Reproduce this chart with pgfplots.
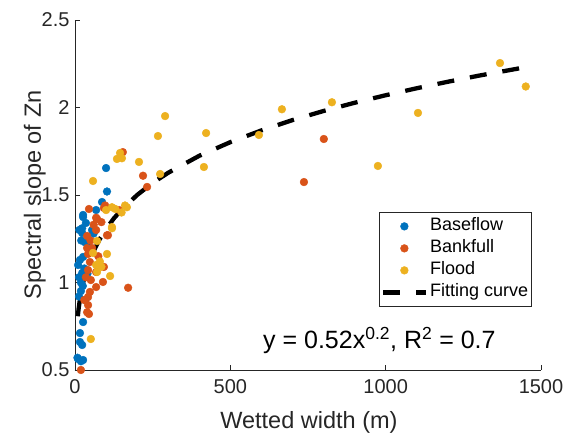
\documentclass[border=0pt]{standalone}
\usepackage{fontspec}
\setmainfont{Liberation Sans}
\usepackage{pgfplots}
\pgfplotsset{compat=1.18}
\definecolor{mblue}{rgb}{0,0.447,0.741}
\definecolor{morange}{rgb}{0.850,0.325,0.098}
\definecolor{myellow}{rgb}{0.929,0.694,0.125}
\definecolor{axgray}{gray}{0.15}

\begin{document}
\begin{tikzpicture}
\path[use as bounding box] (-75pt,-66pt) rectangle (488pt,370pt);
\begin{axis}[
  scale only axis, width=466pt, height=350pt,
  xmin=0, xmax=1500, ymin=0.5, ymax=2.5,
  xtick={0,500,1000,1500}, ytick={0.5,1,1.5,2,2.5},
  scaled x ticks=false,
  /pgf/number format/1000 sep={},
  /pgf/number format/assume math mode=true,
  axis lines=left,
  axis line style={-, axgray, line width=0.6pt},
  tick align=inside, major tick length=5pt,
  tick style={axgray, line width=0.6pt},
  ticklabel style={font=\fontsize{20}{24}\selectfont, text=axgray},
  xticklabel style={yshift=-6pt},
  yticklabel style={xshift=-2pt},
  xlabel={Wetted width (m)},
  ylabel={Spectral slope of Zn},
  label style={font=\fontsize{23.5}{27}\selectfont, text=axgray},
  xlabel style={at={(axis description cs:0.502,0)}, anchor=base, yshift=-59pt},
  ylabel style={at={(axis description cs:-0.073,0.5)}, anchor=base},
  clip=false,
  dots/.style={only marks, mark=*, mark size=3.9pt, color=#1, mark options={solid, fill=#1, draw=#1, line width=0.4pt}},
  legend cell align=left,
  legend image code/.code={\draw[mark repeat=2,mark phase=2,#1] plot coordinates {(0pt,0pt) (21pt,0pt) (43pt,0pt)};},
  legend style={at={(axis cs:978,1.403)}, anchor=north west,
    draw=axgray, line width=0.8pt, fill=white,
    font=\fontsize{18}{20}\selectfont,
    inner xsep=2pt, inner ysep=3pt,
    nodes={inner sep=1.5pt, text height=14pt, text depth=5pt}},
]
% Baseflow
\addplot[dots=mblue] coordinates {
(100,1.654) (103,1.520) (87,1.460) (68,1.414) (26,1.386) (26,1.374) (35,1.34)
(23,1.310) (23,1.283) (14,1.30) (55,1.300) (32,1.230) (45,1.200) (20,1.240)
(26,1.146) (16,1.129) (10,1.10) (30,1.08) (23,1.054) (13,1.03) (19,1.000)
(25,0.980) (19,0.951) (13,0.92) (33,0.90) (26,0.774) (16,0.711) (16,0.660)
(23,0.643) (10,0.563) (26,0.557) (19,0.55) (8,0.57) (60,1.28) (40,1.05)
};
\addlegendentry{Baseflow}
% Bankfull
\addplot[dots=morange] coordinates {
(154,1.745) (219,1.610) (232,1.546) (801,1.820) (737,1.574) (45,1.420) (93,1.426)
(142,1.414) (97,1.440) (71,1.363) (68,1.370) (85,1.345) (106,1.270) (103,1.270)
(68,1.300) (39,1.266) (50,1.240) (39,1.197) (55,1.197) (42,1.163) (75,1.15)
(48,1.117) (42,1.071) (93,1.089) (68,1.060) (90,1.003) (51,1.014) (35,1.03)
(171,0.970) (68,0.974) (48,0.946) (42,0.917) (30,0.90) (42,0.871) (39,0.830)
(45,0.82) (19,0.500) (60,1.33)
};
\addlegendentry{Bankfull}
% Flood
\addplot[dots=myellow] coordinates {
(1368,2.254) (1451,2.120) (1104,1.969) (975,1.666) (827,2.030) (666,1.990)
(592,1.843) (422,1.854) (415,1.660) (290,1.951) (267,1.837) (274,1.620)
(206,1.689) (145,1.740) (135,1.706) (151,1.710) (58,1.580) (100,1.414)
(119,1.430) (161,1.440) (167,1.430) (150,1.400) (130,1.420) (119,1.317)
(119,1.310) (71,1.237) (58,1.169) (103,1.163) (68,1.100) (85,1.090)
(71,1.060) (113,1.037) (51,0.677) (80,1.12)
};
\addlegendentry{Flood}
% Fitting curve y = 0.52 x^0.2
\addplot[black, line width=4.3pt, dash pattern=on 17pt off 16pt] coordinates {
(9,0.807) (12,0.855) (16,0.905) (20,0.947) (25,0.990) (30,1.027) (40,1.087)
(50,1.137) (65,1.198) (80,1.249) (100,1.306) (125,1.366) (150,1.416)
(200,1.500) (250,1.569) (300,1.627) (400,1.724) (500,1.802) (600,1.869)
(700,1.928) (800,1.980) (900,2.027) (1000,2.070) (1100,2.110) (1200,2.147)
(1300,2.182) (1450,2.230)
};
\addlegendentry{Fitting curve}
\node[anchor=base west, inner sep=0pt, font=\fontsize{25}{29}\selectfont, text=black]
  at (axis cs:605,0.62) {y = 0.52x\textsuperscript{0.2}, R\textsuperscript{2} = 0.7};
\end{axis}
\end{tikzpicture}
\end{document}
